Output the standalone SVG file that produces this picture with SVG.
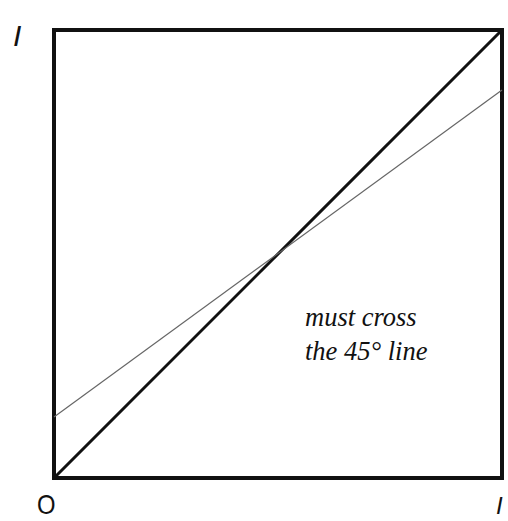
<svg xmlns="http://www.w3.org/2000/svg" width="508" height="521" viewBox="0 0 508 521">
<style>
.hand{font-family:"Liberation Sans",Arial,sans-serif;fill:#111}
.note{font-family:"Liberation Serif","Times New Roman",serif;font-style:italic;font-size:26.5px;fill:#111}
</style>
<rect width="508" height="521" fill="#fff"/>
<g id="box"><rect x="54" y="30" width="448" height="448" fill="none" stroke="#111" stroke-width="4"/></g>
<g id="connectors">
<line id="diag45" x1="54" y1="478" x2="502" y2="30" stroke="#111" stroke-width="3"/>
<line id="curve" x1="54" y1="417" x2="502" y2="90" stroke="#666" stroke-width="1.2"/>
</g>
<g id="labels">
<text class="hand" x="13" y="46" font-size="30" font-style="italic">I</text>
<text class="hand" x="0" y="0" font-size="28" transform="translate(37,514) scale(0.85,1)">O</text>
<text class="hand" x="496" y="514" font-size="24" font-style="italic">I</text>
</g>
<g id="note">
<text class="note" x="305" y="326">must cross</text>
<text class="note" x="305" y="360">the 45° line</text>
</g>
</svg>
